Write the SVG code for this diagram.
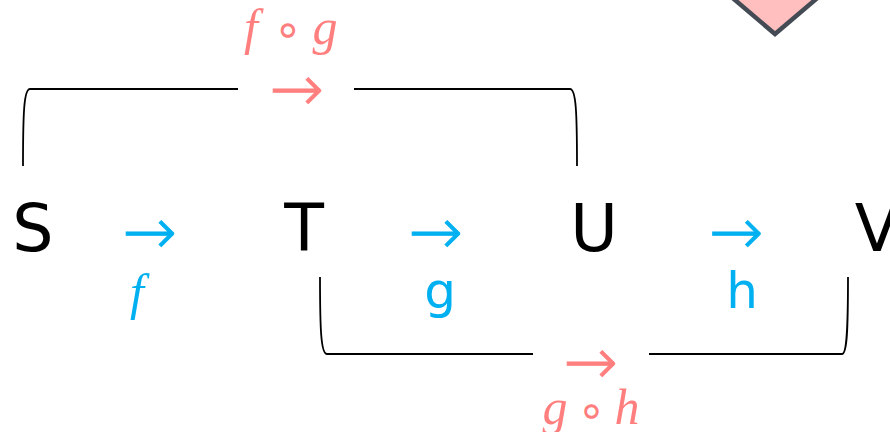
<svg xmlns="http://www.w3.org/2000/svg" width="890" height="432" viewBox="0 0 890 432">
<style>
.obj{font-family:"DejaVu Sans",sans-serif;font-size:65px;fill:#000;text-anchor:middle}
.arr{font-family:"DejaVu Sans",sans-serif;font-weight:200;font-size:65px;text-anchor:middle;stroke-width:0.9}
.blue{fill:#00b0f0}
.arr.blue{stroke:#00b0f0}
.pink{fill:#ff7f7f}
.arr.pink{stroke:#ff7f7f}
.lbl{font-family:"DejaVu Sans",sans-serif;font-size:50px;text-anchor:middle}
.mi{font-family:"Liberation Serif","DejaVu Serif",serif;font-style:italic;font-size:50px;text-anchor:middle}
.op{font-family:"DejaVu Sans",sans-serif;font-size:46px;text-anchor:middle}
.br{fill:none;stroke:#000;stroke-width:1.8}
</style>
<rect width="890" height="432" fill="#fff"/>
<polygon points="775,34 835,-17 775,-68 715,-17" fill="#ffbfbf" stroke="#454b54" stroke-width="4.5"/>
<g id="connectors">
<path class="br" d="M23,166 C23,112 24,89 30,89 H238"/>
<path class="br" d="M354,89 H570 C576,89 577,112 577,166"/>
<path class="br" d="M320,277 C320,330 321,354 327,354 H533"/>
<path class="br" d="M649,354 H842 C847,354 848,330 848,277"/>
<text class="arr blue" x="149.5" y="254">→</text>
<text class="arr blue" x="435.5" y="254">→</text>
<text class="arr blue" x="736" y="254">→</text>
<text class="arr pink" x="296.5" y="111">→</text>
<text class="arr pink" x="590.5" y="384">→</text>
<text class="mi blue" x="137" y="309">f</text>
<text class="lbl blue" x="440" y="308">g</text>
<text class="lbl blue" x="742" y="308">h</text>
<g id="fog">
<text class="mi pink" x="251" y="44">f</text>
<text class="op pink" x="288" y="45">∘</text>
<text class="mi pink" x="325" y="44">g</text>
</g>
<g id="goh">
<text class="mi pink" x="555" y="424">g</text>
<text class="op pink" x="591.5" y="426">∘</text>
<text class="mi pink" x="627" y="424">h</text>
</g>
</g>
<g id="S"><text class="obj" x="33" y="251">S</text></g>
<g id="T"><text class="obj" x="304" y="251">T</text></g>
<g id="U"><text class="obj" x="594" y="251">U</text></g>
<g id="V"><text class="obj" x="877" y="251">V</text></g>
</svg>
